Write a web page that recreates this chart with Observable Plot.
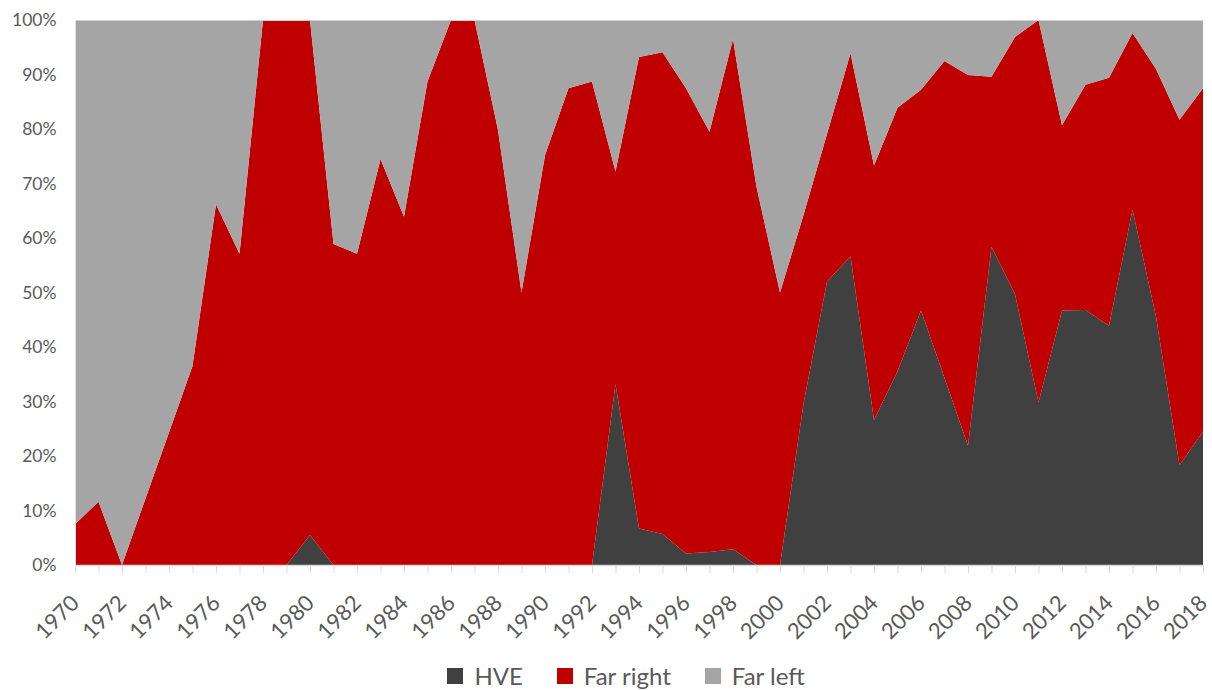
<!DOCTYPE html>
<html>
<head>
<meta charset="utf-8">
<script src="https://cdn.jsdelivr.net/npm/d3@7"></script>
<script src="https://cdn.jsdelivr.net/npm/@observablehq/plot@0.6"></script>
<style>
  body { margin: 0; background: #fff; font-family: Lato, "Open Sans", sans-serif; }
  #chart { width: 1212px; height: 640px; }
  .legend { position: absolute; top: 661px; left: 0; width: 1212px; display: flex; justify-content: center; font-size: 24px; line-height: 30px; color: #595959; padding-left: 40px; box-sizing: border-box; }
  .legend span { display: inline-flex; align-items: center; margin: 0 17px; }
  .legend i { display: inline-block; width: 16px; height: 16px; margin-right: 11px; }
</style>
</head>
<body>
<div id="chart"></div>
<script>
const years = d3.range(1970, 2019);
const seriesNames = ["HVE", "Far right", "Far left"];
const seriesColors = ["#404040", "#C00000", "#A5A5A5"];
const hve = [0,0,0,0,0,0,0,0,0,0, 5.5, 0,0,0,0,0,0,0,0,0,0,0,0,
  33.2,6.7,5.7,2.1,2.4,2.9,0,0,29.6,52.0,56.6,26.6,35.5,46.7,34.3,21.9,58.4,49.7,29.8,46.7,46.8,43.9,65.2,45.6,18.3,24.5];
const farRight = [7.5,11.6,0,12.2,24.3,36.5,66.2,57.1,100,100,94.5,58.9,57.1,74.5,63.9,88.7,100,100,79.8,50,75.2,87.5,88.7,
  39.0,86.5,88.4,85.4,77.1,93.6,69.4,50,34.6,27.1,37.3,46.7,48.4,40.5,58.2,68.0,31.2,47.2,70.2,34.0,41.3,45.5,32.4,45.4,63.4,63.0];
const farLeft = [92.5,88.4,100,87.8,75.7,63.5,33.8,42.9,0,0,0,41.1,42.9,25.5,36.1,11.3,0,0,20.2,50,24.8,12.5,11.3,
  27.8,6.8,5.9,12.5,20.5,3.5,30.6,50,35.8,20.9,6.1,26.7,16.1,12.8,7.5,10.1,10.4,3.1,0,19.3,11.9,10.6,2.4,9.0,18.3,12.5];
const yTicks = d3.range(0, 101, 10);
const xLabelTicks = d3.range(1970, 2019, 2);

const seriesValues = [hve, farRight, farLeft];
const data = [];
seriesNames.forEach((s, i) => years.forEach((yr, j) => data.push({year: yr, series: s, value: seriesValues[i][j]})));

const chart = Plot.plot({
  width: 1212,
  height: 640,
  marginLeft: 75,
  marginRight: 9,
  marginTop: 20,
  marginBottom: 75,
  style: {fontFamily: "Lato, 'Open Sans', sans-serif", fontSize: "17.5px", color: "#595959", background: "#fff", overflow: "visible"},
  x: {type: "linear", domain: [1970, 2018]},
  y: {domain: [0, 100]},
  color: {domain: seriesNames, range: seriesColors},
  marks: [
    Plot.areaY(data, {x: "year", y: "value", z: "series", fill: "series", order: seriesNames}),
    Plot.ruleY([0], {stroke: "#d9d9d9", strokeWidth: 1.5}),
    Plot.ruleY([100], {stroke: "#cfcfcf", strokeWidth: 1}),
    Plot.ruleX([1970], {stroke: "#e0e0e0", strokeWidth: 1}),
    Plot.axisY({ticks: yTicks, tickSize: 0, tickPadding: 19, tickFormat: d => d + "%", label: null, fill: "#595959"}),
    Plot.axisX({ticks: years, tickSize: 8, stroke: "#d9d9d9", tickFormat: () => "", label: null}),
    Plot.text(xLabelTicks, {x: d => d, y: () => 0, text: d => String(d), rotate: -45, textAnchor: "end", lineAnchor: "middle", dx: 0, dy: 34, fontSize: 22, fill: "#595959"})
  ]
});
document.getElementById("chart").appendChild(chart);

const legend = document.createElement("div");
legend.className = "legend";
seriesNames.forEach((s, i) => {
  const sp = document.createElement("span");
  const sw = document.createElement("i");
  sw.style.background = seriesColors[i];
  sp.appendChild(sw);
  sp.appendChild(document.createTextNode(s));
  legend.appendChild(sp);
});
document.body.appendChild(legend);
</script>
</body>
</html>
